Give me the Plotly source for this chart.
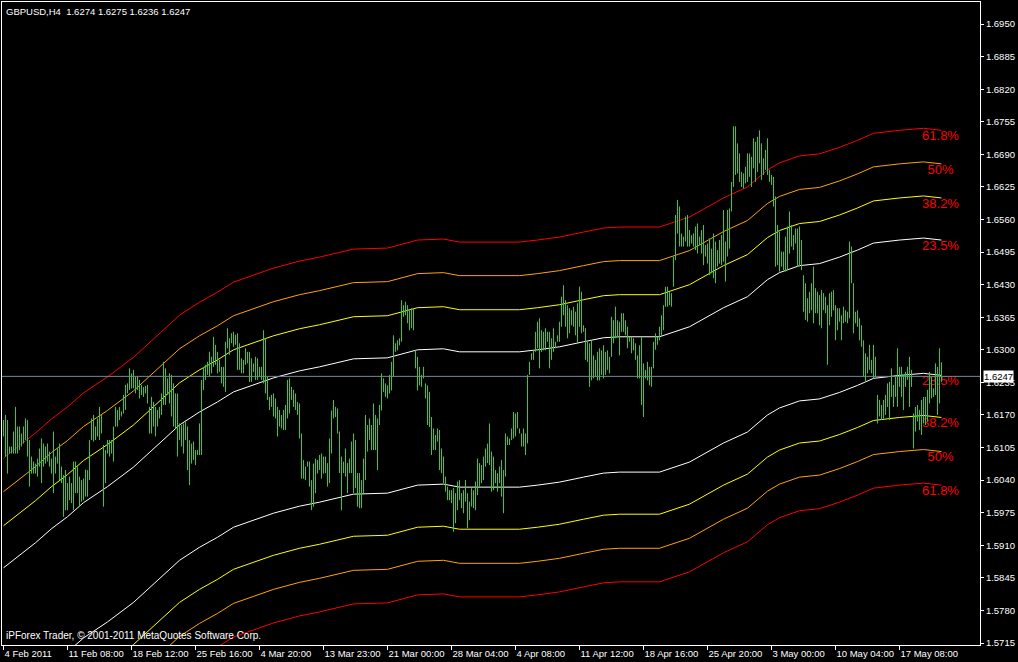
import plotly.graph_objects as go

# ---------------- data ----------------
title_text = "GBPUSD,H4  1.6274 1.6275 1.6236 1.6247"
copyright_text = "iPForex Trader, \u00a9 2001-2011 MetaQuotes Software Corp."

date_labels = ["4 Feb 2011", "11 Feb 08:00", "18 Feb 12:00", "25 Feb 16:00", "4 Mar 20:00",
               "13 Mar 23:00", "21 Mar 00:00", "28 Mar 04:00", "4 Apr 08:00", "11 Apr 12:00",
               "18 Apr 16:00", "25 Apr 20:00", "3 May 00:00", "10 May 04:00", "17 May 08:00"]
label_bar = [0, 32, 64, 96, 128, 160, 192, 224, 256, 288, 320, 352, 384, 416, 448]

price_ticks = [1.5715, 1.5780, 1.5845, 1.5910, 1.5975, 1.6040, 1.6105, 1.6170, 1.6235, 1.6300,
               1.6365, 1.6430, 1.6495, 1.6560, 1.6625, 1.6690, 1.6755, 1.6820, 1.6885, 1.6950]
last_price = 1.6247

bar_high = [
    1.6160, 1.6170, 1.6160, 1.6107, 1.6107, 1.6137, 1.6186, 1.6147, 1.6147, 1.6133,
    1.6147, 1.6163, 1.6160, 1.6120, 1.6087, 1.6077, 1.6073, 1.6083, 1.6103, 1.6123,
    1.6113, 1.6107, 1.6113, 1.6097, 1.6083, 1.6137, 1.6087, 1.6103, 1.6113, 1.6067,
    1.6050, 1.6060, 1.6034, 1.6047, 1.6034, 1.6077, 1.6077, 1.6067, 1.6047, 1.6040,
    1.6043, 1.6061, 1.6060, 1.6120, 1.6163, 1.6170, 1.6147, 1.6163, 1.6186, 1.6170,
    1.6110, 1.6100, 1.6120, 1.6120, 1.6120, 1.6147, 1.6186, 1.6180, 1.6186, 1.6177,
    1.6210, 1.6230, 1.6233, 1.6263, 1.6253, 1.6260, 1.6246, 1.6246, 1.6240, 1.6230,
    1.6226, 1.6228, 1.6230, 1.6186, 1.6206, 1.6196, 1.6186, 1.6180, 1.6186, 1.6213,
    1.6276, 1.6263, 1.6243, 1.6253, 1.6250, 1.6233, 1.6213, 1.6213, 1.6153, 1.6150,
    1.6153, 1.6160, 1.6147, 1.6120, 1.6113, 1.6117, 1.6100, 1.6100, 1.6153, 1.6240,
    1.6266, 1.6270, 1.6276, 1.6296, 1.6286, 1.6326, 1.6310, 1.6296, 1.6280, 1.6266,
    1.6266, 1.6316, 1.6343, 1.6323, 1.6333, 1.6336, 1.6330, 1.6333, 1.6313, 1.6283,
    1.6280, 1.6303, 1.6296, 1.6296, 1.6283, 1.6273, 1.6286, 1.6283, 1.6266, 1.6266,
    1.6339, 1.6323, 1.6246, 1.6206, 1.6210, 1.6213, 1.6203, 1.6186, 1.6180, 1.6170,
    1.6180, 1.6190, 1.6240, 1.6243, 1.6226, 1.6220, 1.6213, 1.6196, 1.6193, 1.6133,
    1.6080, 1.6067, 1.6077, 1.6077, 1.6040, 1.6073, 1.6083, 1.6080, 1.6090, 1.6093, 1.6087,
    1.6087, 1.6074, 1.6123, 1.6179, 1.6200, 1.6186, 1.6183, 1.6137, 1.6087, 1.6077,
    1.6103, 1.6074, 1.6083, 1.6117, 1.6133, 1.6120, 1.6054, 1.6054, 1.6040, 1.6083,
    1.6170, 1.6150, 1.6163, 1.6150, 1.6193, 1.6170, 1.6163, 1.6190, 1.6253, 1.6243,
    1.6233, 1.6229, 1.6250, 1.6276, 1.6329, 1.6313, 1.6319, 1.6323, 1.6399, 1.6389,
    1.6396, 1.6389, 1.6379, 1.6383, 1.6383, 1.6299, 1.6286, 1.6266, 1.6250, 1.6266,
    1.6233, 1.6229, 1.6216, 1.6166, 1.6143, 1.6130, 1.6143, 1.6140, 1.6103, 1.6087,
    1.6047, 1.6027, 1.6020, 1.6020, 1.6024, 1.6014, 1.6037, 1.6040, 1.6014, 1.6020,
    1.6040, 1.6014, 1.5997, 1.6024, 1.6020, 1.6037, 1.6083, 1.6074, 1.6070, 1.6087,
    1.6103, 1.6113, 1.6153, 1.6097, 1.6087, 1.6060, 1.6054, 1.6067, 1.6080, 1.6060,
    1.6133, 1.6127, 1.6123, 1.6143, 1.6176, 1.6173, 1.6176, 1.6143, 1.6133, 1.6143,
    1.6133, 1.6250, 1.6276, 1.6293, 1.6299, 1.6336, 1.6356, 1.6363, 1.6339, 1.6336,
    1.6343, 1.6336, 1.6336, 1.6323, 1.6343, 1.6316, 1.6329, 1.6356, 1.6406, 1.6429,
    1.6399, 1.6389, 1.6383, 1.6379, 1.6386, 1.6376, 1.6393, 1.6426, 1.6416, 1.6349,
    1.6343, 1.6316, 1.6313, 1.6319, 1.6289, 1.6280, 1.6296, 1.6303, 1.6299, 1.6309,
    1.6296, 1.6299, 1.6286, 1.6366, 1.6359, 1.6386, 1.6359, 1.6356, 1.6373, 1.6373,
    1.6359, 1.6346, 1.6326, 1.6326, 1.6323, 1.6313, 1.6289, 1.6309, 1.6326, 1.6273,
    1.6260, 1.6276, 1.6266,
    1.6266, 1.6316, 1.6333, 1.6326, 1.6346, 1.6369, 1.6389, 1.6426, 1.6426, 1.6416,
    1.6413, 1.6486, 1.6569, 1.6599, 1.6586, 1.6532, 1.6526, 1.6566, 1.6569, 1.6539,
    1.6529, 1.6532, 1.6546, 1.6552, 1.6526, 1.6539, 1.6549, 1.6509, 1.6512, 1.6522,
    1.6502, 1.6532, 1.6516, 1.6499, 1.6519, 1.6529, 1.6579, 1.6516, 1.6579, 1.6582,
    1.6635, 1.6746, 1.6746, 1.6712, 1.6692, 1.6655, 1.6652, 1.6665, 1.6692, 1.6692,
    1.6685, 1.6722, 1.6715, 1.6725, 1.6738, 1.6712, 1.6682, 1.6699, 1.6722, 1.6659,
    1.6649, 1.6645, 1.6606, 1.6549, 1.6536, 1.6496, 1.6496, 1.6526, 1.6546, 1.6576,
    1.6549, 1.6529, 1.6542, 1.6542, 1.6546, 1.6519, 1.6449, 1.6433, 1.6403, 1.6416,
    1.6433, 1.6466, 1.6423, 1.6416, 1.6409, 1.6419, 1.6413, 1.6406, 1.6389, 1.6413,
    1.6416, 1.6419, 1.6389, 1.6383, 1.6383, 1.6369, 1.6386, 1.6379, 1.6376, 1.6516,
    1.6506, 1.6433, 1.6376, 1.6379, 1.6363, 1.6349, 1.6319, 1.6293, 1.6286, 1.6310,
    1.6280, 1.6310, 1.6286, 1.6210, 1.6200, 1.6190, 1.6200, 1.6210, 1.6233, 1.6236,
    1.6263, 1.6230, 1.6246, 1.6303, 1.6266, 1.6266, 1.6250, 1.6256, 1.6266, 1.6286,
    1.6260, 1.6173, 1.6186, 1.6190, 1.6180, 1.6200, 1.6206, 1.6206, 1.6220, 1.6256,
    1.6246, 1.6223, 1.6273, 1.6266, 1.6303, 1.6275,
]

bar_low = [
    1.6127, 1.6087, 1.6053, 1.6093, 1.6093, 1.6093, 1.6093, 1.6093, 1.6100, 1.6107,
    1.6113, 1.6120, 1.6087, 1.6027, 1.6053, 1.6053, 1.6053, 1.6047, 1.6067, 1.6034,
    1.6067, 1.6073, 1.6077, 1.6067, 1.6053, 1.6014, 1.6053, 1.6073, 1.6040, 1.6034,
    1.5967, 1.5980, 1.5980, 1.6000, 1.5994, 1.5980, 1.6014, 1.6014, 1.5987, 1.5997,
    1.6000, 1.6007, 1.6007, 1.6040, 1.6120, 1.6117, 1.6120, 1.6127, 1.6120, 1.6133,
    1.5987, 1.6034, 1.6093, 1.6087, 1.6093, 1.6077, 1.6147, 1.6147, 1.6160, 1.6167,
    1.6173, 1.6180, 1.6213, 1.6220, 1.6223, 1.6223, 1.6213, 1.6220, 1.6203, 1.6210,
    1.6206, 1.6213, 1.6193, 1.6133, 1.6133, 1.6147, 1.6127, 1.6147, 1.6163, 1.6170,
    1.6190, 1.6190, 1.6210, 1.6193, 1.6167, 1.6147, 1.6143, 1.6087, 1.6120, 1.6107,
    1.6093, 1.6120, 1.6060, 1.6030, 1.6073, 1.6080, 1.6070, 1.6090, 1.6090, 1.6090,
    1.6220, 1.6240, 1.6250, 1.6246, 1.6253, 1.6266, 1.6270, 1.6253, 1.6256, 1.6233,
    1.6226, 1.6216, 1.6303, 1.6290, 1.6313, 1.6306, 1.6310, 1.6260, 1.6260, 1.6253,
    1.6253, 1.6270, 1.6273, 1.6236, 1.6236, 1.6256, 1.6240, 1.6240, 1.6246, 1.6240,
    1.6233, 1.6213, 1.6200, 1.6180, 1.6186, 1.6167, 1.6163, 1.6127, 1.6147, 1.6143,
    1.6140, 1.6140, 1.6163, 1.6173, 1.6200, 1.6186, 1.6180, 1.6170, 1.6123, 1.6043,
    1.6043, 1.6040, 1.6067, 1.6027, 1.5980, 1.5987, 1.6014, 1.6053, 1.6060, 1.6043, 1.6053,
    1.6054, 1.6027, 1.6034, 1.6093, 1.6163, 1.6166, 1.6133, 1.6054, 1.5980, 1.6054,
    1.6047, 1.6014, 1.6054, 1.6054, 1.6014, 1.6024, 1.5987, 1.5984, 1.5984, 1.6014,
    1.6040, 1.6097, 1.6120, 1.6100, 1.6100, 1.6100, 1.6060, 1.6150, 1.6179, 1.6216,
    1.6206, 1.6203, 1.6213, 1.6219, 1.6246, 1.6296, 1.6299, 1.6309, 1.6316, 1.6366,
    1.6369, 1.6353, 1.6339, 1.6343, 1.6339, 1.6263, 1.6219, 1.6229, 1.6226, 1.6243,
    1.6203, 1.6150, 1.6146, 1.6090, 1.6100, 1.6100, 1.6117, 1.6060, 1.6054, 1.6034,
    1.6017, 1.6000, 1.6000, 1.5994, 1.5937, 1.5954, 1.5980, 1.6000, 1.5984, 1.5974,
    1.5997, 1.5944, 1.5960, 1.5987, 1.5984, 1.5980, 1.6010, 1.6027, 1.6034, 1.6040,
    1.6067, 1.6074, 1.6070, 1.6017, 1.6020, 1.6034, 1.6017, 1.6034, 1.6007, 1.5974,
    1.6047, 1.6110, 1.6110, 1.6120, 1.6123, 1.6127, 1.6143, 1.6133, 1.6107, 1.6107,
    1.6090, 1.6113, 1.6250, 1.6280, 1.6280, 1.6296, 1.6303, 1.6263, 1.6296, 1.6299,
    1.6299, 1.6316, 1.6263, 1.6280, 1.6296, 1.6303, 1.6316, 1.6316, 1.6346, 1.6369,
    1.6346, 1.6323, 1.6333, 1.6349, 1.6346, 1.6329, 1.6313, 1.6346, 1.6333, 1.6336,
    1.6280, 1.6276, 1.6226, 1.6239, 1.6243, 1.6246, 1.6239, 1.6239, 1.6250, 1.6243,
    1.6250, 1.6260, 1.6253, 1.6286, 1.6313, 1.6323, 1.6326, 1.6289, 1.6336, 1.6336,
    1.6329, 1.6303, 1.6316, 1.6293, 1.6299, 1.6280, 1.6243, 1.6243, 1.6190, 1.6166,
    1.6243, 1.6239, 1.6229,
    1.6226, 1.6263, 1.6300, 1.6310, 1.6319, 1.6326, 1.6339, 1.6386, 1.6386, 1.6389,
    1.6386, 1.6426, 1.6479, 1.6532, 1.6506, 1.6506, 1.6506, 1.6516, 1.6506, 1.6506,
    1.6512, 1.6506, 1.6499, 1.6492, 1.6509, 1.6492, 1.6469, 1.6486, 1.6472, 1.6449,
    1.6453, 1.6443, 1.6433, 1.6466, 1.6472, 1.6469, 1.6476, 1.6436, 1.6486, 1.6502,
    1.6576, 1.6625, 1.6649, 1.6652, 1.6635, 1.6625, 1.6622, 1.6632, 1.6635, 1.6645,
    1.6625, 1.6662, 1.6635, 1.6655, 1.6672, 1.6639, 1.6649, 1.6659, 1.6649, 1.6635,
    1.6629, 1.6586, 1.6466, 1.6469, 1.6456, 1.6466, 1.6459, 1.6456, 1.6459, 1.6492,
    1.6506, 1.6499, 1.6512, 1.6466, 1.6466, 1.6459, 1.6376, 1.6360, 1.6356, 1.6373,
    1.6379, 1.6353, 1.6373, 1.6373, 1.6349, 1.6343, 1.6379, 1.6373, 1.6270, 1.6349,
    1.6366, 1.6379, 1.6319, 1.6339, 1.6356, 1.6319, 1.6353, 1.6356, 1.6353, 1.6363,
    1.6433, 1.6333, 1.6353, 1.6346, 1.6319, 1.6306, 1.6246, 1.6236, 1.6253, 1.6260,
    1.6253, 1.6243, 1.6246, 1.6153, 1.6167, 1.6160, 1.6163, 1.6170, 1.6186, 1.6160,
    1.6206, 1.6186, 1.6206, 1.6186, 1.6226, 1.6206, 1.6180, 1.6226, 1.6240, 1.6186,
    1.6226, 1.6103, 1.6137, 1.6157, 1.6140, 1.6130, 1.6153, 1.6150, 1.6157, 1.6193,
    1.6203, 1.6206, 1.6210, 1.6170, 1.6193, 1.6236,
]

# centre line of the Fibonacci envelope (bar index, price)
mid_bar = [0, 7, 16, 24, 32, 40, 52, 65, 78, 88, 98, 107, 115, 125, 135, 148, 158, 175, 192, 207,
           220, 228, 247, 258, 267, 278, 290, 300, 308, 328, 343, 360, 372, 382, 388, 398, 408, 418,
           427, 435, 448, 460, 469]
mid_price = [1.5730, 1.5752, 1.5780, 1.5808, 1.5832, 1.5860, 1.5892, 1.5931, 1.5979, 1.6015,
             1.6041, 1.6061, 1.6081, 1.6095, 1.6109, 1.6123, 1.6131, 1.6147, 1.6149, 1.6165,
             1.6167, 1.6161, 1.6161, 1.6161, 1.6165, 1.6171, 1.6181, 1.6189, 1.6191, 1.6191,
             1.6211, 1.6249, 1.6271, 1.6305, 1.6319, 1.6333, 1.6337, 1.6350, 1.6364, 1.6378,
             1.6384, 1.6388, 1.6384]

fib_labels = ["23.5%", "38.2%", "50%", "61.8%"]
fib_offsets = [0.0135, 0.0219, 0.0287, 0.0354]   # distance of each level from the centre line
fib_colors = ["#FFFFFF", "#FFFF00", "#FFA500", "#FF0000"]

# ---------------- figure ----------------
FONT = "Liberation Sans"
fig = go.Figure()

n = min(len(bar_high), len(bar_low))
last_bar = n - 1

# fib text labels (drawn first so the bars sit over them)
for lab, off in zip(fib_labels, fib_offsets):
    for sign in (1, -1):
        fig.add_trace(go.Scatter(
            x=[last_bar - 0.5], y=[mid_price[-1] + sign * off],
            mode="text", text=[lab], textposition="bottom center",
            textfont=dict(family=FONT, size=13, color="#FF0000"),
            hoverinfo="skip", showlegend=False))

# envelope lines
for off, col in zip(fib_offsets, fib_colors):
    for sign in (1, -1):
        fig.add_trace(go.Scatter(
            x=mid_bar, y=[m + sign * off for m in mid_price],
            mode="lines", line=dict(color=col, width=1),
            hoverinfo="skip", showlegend=False))

# price bars (high-low vertical lines)
bx, by = [], []
for i in range(n):
    bx += [i, i, None]
    by += [bar_low[i], bar_high[i], None]
fig.add_trace(go.Scatter(x=bx, y=by, mode="lines",
                         line=dict(color="#32CD32", width=1),
                         hoverinfo="skip", showlegend=False))

# bid line
fig.add_shape(type="line", xref="paper", x0=0, x1=1, yref="y", y0=last_price, y1=last_price,
              line=dict(color="#778899", width=1), layer="above")

fig.add_annotation(xref="paper", yref="paper", x=0, y=1, xanchor="left", yanchor="top",
                   xshift=2, yshift=-2, text=title_text, showarrow=False,
                   font=dict(family=FONT, size=9.5, color="white"))
fig.add_annotation(xref="paper", yref="paper", x=0, y=0, xanchor="left", yanchor="bottom",
                   xshift=2, yshift=2, text=copyright_text, showarrow=False,
                   font=dict(family=FONT, size=10, color="white"))
fig.add_annotation(xref="paper", yref="y", x=1, y=last_price, xanchor="left", yanchor="middle",
                   xshift=3, text=f"{last_price:.4f}", showarrow=False,
                   bgcolor="white", borderpad=0,
                   font=dict(family=FONT, size=9.5, color="black"))

fig.update_layout(
    width=1018, height=662,
    margin=dict(l=2, r=38, t=2, b=17, autoexpand=False),
    paper_bgcolor="black", plot_bgcolor="black",
    showlegend=False,
    xaxis=dict(range=[-0.75, 488.25], tickvals=label_bar, ticktext=date_labels,
               tickangle=0, automargin=False,
               ticks="outside", ticklen=4, tickcolor="white", tickwidth=1,
               ticklabelposition="outside right",
               showline=True, linecolor="white", linewidth=1, mirror=True,
               showgrid=False, zeroline=False,
               tickfont=dict(family=FONT, size=9.5, color="white")),
    yaxis=dict(range=[1.5711, 1.6994], side="right", tickvals=price_ticks,
               ticktext=[f"{p:.4f}" for p in price_ticks], automargin=False,
               ticks="outside", ticklen=3, tickcolor="white", tickwidth=1,
               showline=True, linecolor="white", linewidth=1, mirror=True,
               showgrid=False, zeroline=False,
               tickfont=dict(family=FONT, size=9.5, color="white")),
)

fig.write_html("out.html", config={"displayModeBar": False},
               post_script="document.body.style.margin='0px';document.body.style.overflow='hidden';")
